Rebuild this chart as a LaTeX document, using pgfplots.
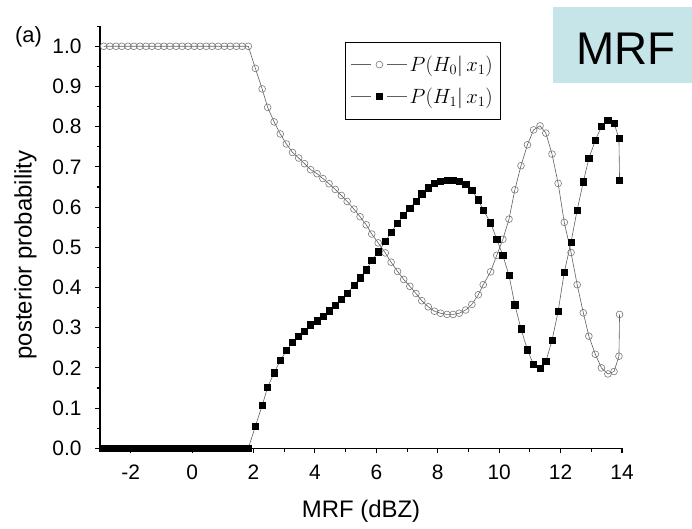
\documentclass[border=0pt]{standalone}
\usepackage{fontspec}
\setmainfont{Liberation Sans}
\usepackage{pgfplots}
\usepackage{pgfplotstable}
\pgfplotsset{compat=1.18}
\definecolor{mrfbox}{RGB}{197,229,232}
\definecolor{lngray}{RGB}{95,95,95}
\definecolor{mkgray}{RGB}{120,120,120}

% x, P(H0|x1), P(H1|x1)
\pgfplotstableread{
x h0 h1
-2.88 1.000 0.000
-2.68 1.000 0.000
-2.48 1.000 0.000
-2.29 1.000 0.000
-2.09 1.000 0.000
-1.90 1.000 0.000
-1.70 1.000 0.000
-1.50 1.000 0.000
-1.31 1.000 0.000
-1.11 1.000 0.000
-0.92 1.000 0.000
-0.72 1.000 0.000
-0.52 1.000 0.000
-0.33 1.000 0.000
-0.13 1.000 0.000
0.07 1.000 0.000
0.26 1.000 0.000
0.46 1.000 0.000
0.65 1.000 0.000
0.85 1.000 0.000
1.05 1.000 0.000
1.24 1.000 0.000
1.44 1.000 0.000
1.63 1.000 0.000
1.83 1.000 0.000
2.06 0.945 0.055
2.28 0.894 0.106
2.46 0.848 0.152
2.67 0.812 0.188
2.87 0.782 0.218
3.07 0.757 0.243
3.27 0.736 0.264
3.47 0.722 0.278
3.66 0.708 0.292
3.86 0.693 0.307
4.07 0.683 0.317
4.26 0.671 0.329
4.46 0.658 0.342
4.66 0.644 0.356
4.86 0.629 0.371
5.05 0.614 0.386
5.27 0.595 0.405
5.47 0.576 0.424
5.67 0.556 0.444
5.85 0.533 0.467
6.06 0.511 0.489
6.29 0.486 0.514
6.48 0.463 0.537
6.69 0.440 0.560
6.89 0.420 0.580
7.09 0.403 0.597
7.29 0.385 0.615
7.48 0.367 0.633
7.69 0.352 0.648
7.89 0.341 0.659
8.09 0.336 0.664
8.30 0.333 0.667
8.50 0.333 0.667
8.70 0.336 0.664
8.91 0.344 0.656
9.11 0.358 0.642
9.32 0.382 0.618
9.48 0.407 0.593
9.72 0.439 0.561
9.92 0.480 0.520
10.12 0.520 0.480
10.32 0.570 0.430
10.51 0.643 0.357
10.71 0.703 0.297
10.92 0.755 0.245
11.12 0.792 0.208
11.33 0.802 0.198
11.52 0.784 0.216
11.72 0.732 0.268
11.92 0.659 0.341
12.12 0.562 0.438
12.34 0.487 0.513
12.54 0.407 0.593
12.74 0.337 0.663
12.92 0.279 0.721
13.13 0.234 0.766
13.33 0.200 0.800
13.54 0.185 0.815
13.74 0.191 0.809
13.90 0.229 0.771
13.92 0.333 0.667
}\mrfdata

\begin{document}
\begin{tikzpicture}[x=1bp,y=1bp]
\useasboundingbox (0,0) rectangle (692,529);
\fill[mrfbox] (553.3,445.7) rectangle (692,522.3);
\node[font=\fontsize{46}{50}\selectfont, inner sep=0pt] at (625.7,480.7) {MRF};
\node[font=\fontsize{22}{25}\selectfont, inner sep=0pt] at (28.5,492.3) {(a)};
\begin{axis}[
  at={(100bp,80.7bp)}, anchor=south west,
  scale only axis, width=522bp, height=422.1bp,
  xmin=-3, xmax=14, ymin=0, ymax=1.05,
  axis x line*=bottom, axis y line*=left,
  axis line style={black, line width=1.1bp, -},
  xtick={-2,0,2,4,6,8,10,12,14}, minor x tick num=1,
  ytick={0,0.1,0.2,0.3,0.4,0.5,0.6,0.7,0.8,0.9,1.0}, minor y tick num=1,
  extra x ticks={-3}, extra y ticks={1.05},
  extra x tick labels={}, extra y tick labels={},
  extra tick style={major tick length=3.5bp},
  tick align=outside, major tick length=5bp, minor tick length=3.5bp,
  every tick/.style={black, line width=1.1bp},
  /pgf/number format/assume math mode=true,
  tick label style={font=\fontsize{21}{24}\selectfont},
  yticklabel style={xshift=-10bp, /pgf/number format/.cd, fixed, fixed zerofill, precision=1},
  xticklabel style={yshift=-8bp},
  xlabel={MRF (dBZ)}, ylabel={posterior probability},
  label style={font=\fontsize{24}{28}\selectfont},
  xlabel style={at={(axis description cs:0.5,-0.150)}, anchor=center},
  ylabel style={at={(axis description cs:-0.1427,0.458)}, anchor=center},
  clip=false,
  legend style={at={(0.469,0.963)}, anchor=north west, draw=black,
    line width=0.6bp, font=\fontsize{21}{24}\selectfont,
    inner xsep=6bp, inner ysep=12bp, row sep=11bp},
  legend cell align=left,
  legend image code/.code={
    \draw[#1, mark=none] (0bp,0bp)--(20bp,0bp) (36bp,0bp)--(56bp,0bp);
    \draw[#1, only marks] plot coordinates {(28bp,0bp)};
  },
]
\addplot[color=lngray, line width=0.6bp, mark=o, mark size=3.4bp,
  mark options={draw=mkgray, fill=white, line width=0.6bp}]
  table[x=x, y=h0] {\mrfdata};
\addlegendentry{$P(H_{0}|\,x_{1})$}
\addplot[color=lngray, line width=0.6bp, mark=square*, mark size=3.1bp,
  mark options={draw=black, fill=black}]
  table[x=x, y=h1] {\mrfdata};
\addlegendentry{$P(H_{1}|\,x_{1})$}
\end{axis}
\end{tikzpicture}
\end{document}
